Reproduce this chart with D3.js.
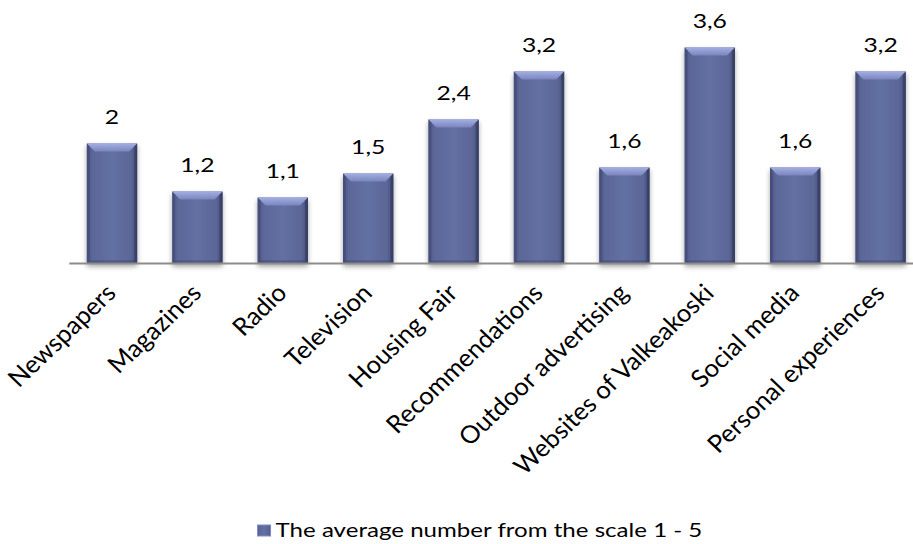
<!DOCTYPE html>
<html>
<head>
<meta charset="utf-8">
<script src="https://cdn.jsdelivr.net/npm/d3@7"></script>
<style>
  html, body { margin: 0; padding: 0; background: #ffffff; }
  svg { display: block; }
  text { font-family: Lato, "Open Sans", sans-serif; fill: #000; }
</style>
</head>
<body>
<svg id="chart" width="913" height="544"></svg>
<script>
// Media channels and their average score on a 1–5 scale
const categories = [
  "Newspapers", "Magazines", "Radio", "Television", "Housing Fair",
  "Recommendations", "Outdoor advertising", "Websites of Valkeakoski",
  "Social media", "Personal experiences"
];
const averages = [2, 1.2, 1.1, 1.5, 2.4, 3.2, 1.6, 3.6, 1.6, 3.2];
const seriesName = "The average number from the scale 1 - 5";

const W = 913, H = 544;
const svg = d3.select("#chart");
const fmt = v => String(v).replace(".", ",");

// slight horizontal stretch applied to the slanted category labels
const STRETCH = 1.05;

const x = d3.scaleBand()
  .domain(categories)
  .range([69.3, 923.3])
  .paddingInner(0.41)
  .paddingOuter(0.205);

const y = d3.scaleLinear()
  .domain([0, 4])
  .range([263.5, 23.5]);

const defs = svg.append("defs");

// body shading: darker toward the sides
const body = defs.append("linearGradient").attr("id", "body")
  .attr("x1", 0).attr("x2", 1).attr("y1", 0).attr("y2", 0);
[[0, "#4f5987"], [0.12, "#5c6798"], [0.5, "#6370a3"], [0.88, "#5b6696"], [1, "#414a75"]]
  .forEach(([o, c]) => body.append("stop").attr("offset", o).attr("stop-color", c));

// top bevel highlight
const topG = defs.append("linearGradient").attr("id", "topBevel")
  .attr("x1", 0).attr("x2", 0).attr("y1", 0).attr("y2", 1);
[[0, "#a3aee2"], [1, "#7985bd"]]
  .forEach(([o, c]) => topG.append("stop").attr("offset", o).attr("stop-color", c));

const shadow = defs.append("filter").attr("id", "shadow")
  .attr("x", "-20%").attr("y", "-10%").attr("width", "140%").attr("height", "130%");
shadow.append("feDropShadow")
  .attr("dx", 0).attr("dy", 3).attr("stdDeviation", 2.5)
  .attr("flood-color", "#000").attr("flood-opacity", 0.35);

const bw = x.bandwidth();
const bev = 8;
const rows = categories.map((c, i) => ({ c, v: averages[i] }));

const bars = svg.append("g").selectAll("g.bar")
  .data(rows)
  .join("g").attr("class", "bar")
  .attr("filter", "url(#shadow)");

bars.each(function (d) {
  const g = d3.select(this);
  const x0 = x(d.c), x1 = x0 + bw;
  const y0 = y(d.v), y1 = y(0);
  g.append("rect")
    .attr("x", x0).attr("y", y0).attr("width", bw).attr("height", y1 - y0)
    .attr("fill", "url(#body)");
  // top facet
  g.append("path")
    .attr("d", `M${x0},${y0}L${x1},${y0}L${x1 - bev},${y0 + bev}L${x0 + bev},${y0 + bev}Z`)
    .attr("fill", "url(#topBevel)");
  // right facet (shaded)
  g.append("path")
    .attr("d", `M${x1},${y0}L${x1},${y1}L${x1 - 3},${y1 - 3}L${x1 - 3},${y0 + 3}Z`)
    .attr("fill", "#2f3658").attr("opacity", 0.55);
  // left facet
  g.append("path")
    .attr("d", `M${x0},${y0}L${x0 + 3},${y0 + 3}L${x0 + 3},${y1 - 3}L${x0},${y1}Z`)
    .attr("fill", "#39406a").attr("opacity", 0.45);
  // bottom facet
  g.append("path")
    .attr("d", `M${x0},${y1}L${x0 + 3},${y1 - 3}L${x1 - 3},${y1 - 3}L${x1},${y1}Z`)
    .attr("fill", "#2f3658").attr("opacity", 0.4);
});

// category axis line
svg.append("line")
  .attr("x1", x.range()[0]).attr("x2", W)
  .attr("y1", y(0)).attr("y2", y(0))
  .attr("stroke", "#8c8c8c").attr("stroke-width", 2);

// value labels
svg.append("g").selectAll("text")
  .data(rows)
  .join("text")
  .attr("transform", d => `translate(${x(d.c) + bw / 2},${y(d.v) - 20}) scale(1.3,1)`)
  .attr("text-anchor", "middle")
  .attr("font-size", 19)
  .text(d => fmt(d.v));

// slanted category labels
svg.append("g").selectAll("text")
  .data(categories)
  .join("text")
  .attr("transform", d =>
    `translate(${x(d) + bw / 2 + 5.5},${y(0) + 31}) scale(${STRETCH},1) rotate(-45)`)
  .attr("text-anchor", "end")
  .attr("font-size", 24.5)
  .text(d => d);

// legend
const leg = svg.append("g");
const legText = leg.append("text")
  .attr("font-size", 19.5)
  .text(seriesName);
const legScale = 1.235;
const tw = legText.node().getComputedTextLength() * legScale;
const box = 13, gap = 5;
const legCenter = 480;
const lx = legCenter - (box + gap + tw) / 2;
leg.append("rect")
  .attr("x", lx).attr("y", 525).attr("width", box).attr("height", 11)
  .attr("fill", "url(#body)").attr("stroke", "#7f8bc4").attr("stroke-width", 1);
legText.attr("transform", `translate(${lx + box + gap},536.5) scale(${legScale},1)`);
</script>
</body>
</html>
